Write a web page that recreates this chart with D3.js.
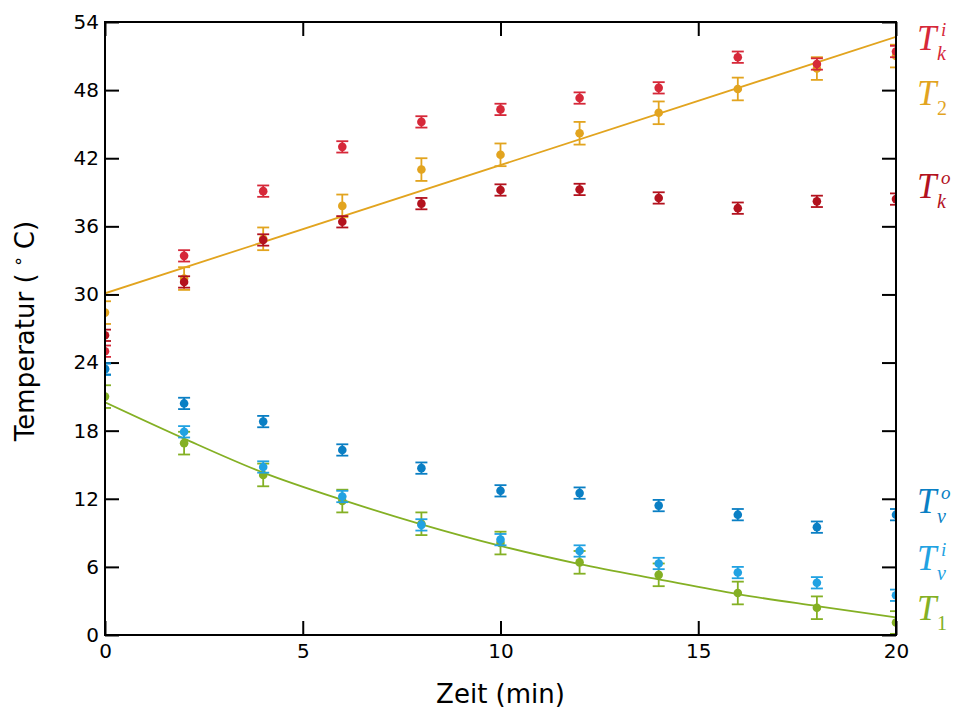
<!DOCTYPE html>
<html><head><meta charset="utf-8">
<script src="https://cdn.jsdelivr.net/npm/d3@7"></script>
<style>body{margin:0;background:#fff}svg{display:block}</style>
</head><body>
<svg id="chart" width="955" height="709"></svg>
<script>
// ---- data ----
const times = [0, 2, 4, 6, 8, 10, 12, 14, 16, 18, 20];
const Tk_i = [25.0, 33.4, 39.1, 43.0, 45.2, 46.3, 47.3, 48.2, 50.9, 50.3, 51.4];
const Tk_o = [26.4, 31.1, 34.8, 36.4, 38.0, 39.2, 39.25, 38.5, 37.6, 38.2, 38.4];
const T2   = [28.4, 31.4, 34.9, 37.8, 41.0, 42.3, 44.2, 46.0, 48.1, 49.9, 51.0];
const Tv_o = [23.45, 20.4, 18.8, 16.3, 14.7, 12.7, 12.5, 11.4, 10.6, 9.5, 10.6];
const Tv_i = [23.4, 17.9, 14.8, 12.2, 9.7, 8.4, 7.4, 6.3, 5.5, 4.6, 3.5];
const T1   = [21.0, 16.9, 14.1, 11.8, 9.8, 8.1, 6.4, 5.3, 3.7, 2.4, 1.1];
const err_T2 = 1.0, err_T1 = 1.0, err_Tk_i = 0.5, err_Tk_o = 0.5, err_Tv_o = 0.5, err_Tv_i = 0.5;
// fit curves
const fitT2_t = [0, 20];
const fitT2 = [30.1, 52.7];
const fitT1_t = [0, 2, 4, 6, 8, 10, 12, 14, 16, 18, 20];
const fitT1 = [20.5, 17.3, 14.3, 11.9, 9.75, 7.85, 6.25, 4.9, 3.6, 2.55, 1.55];
const yTicks = [0, 6, 12, 18, 24, 30, 36, 42, 48, 54];
const xTicks = [0, 5, 10, 15, 20];

const colors = {Tk_i:"#d62839", Tk_o:"#b3121e", T2:"#e2a41f", Tv_o:"#0a7fc4", Tv_i:"#21a2e2", T1:"#84b024"};

// ---- layout ----
const svg = d3.select("#chart");
const L = 105, R = 896, T = 22, B = 635;
const x = d3.scaleLinear().domain([0, 20]).range([L, R]);
const y = d3.scaleLinear().domain([0, 54]).range([B, T]);

svg.append("defs").append("clipPath").attr("id","clip")
  .append("rect").attr("x",L).attr("y",T).attr("width",R-L).attr("height",B-T);

const tickFont = "DejaVu Sans";
function styleAxis(g, showText){
  g.select(".domain").remove();
  g.selectAll(".tick line").attr("stroke","#000").attr("stroke-width",2);
  g.selectAll(".tick text").attr("font-family",tickFont).attr("font-size",20).attr("fill","#000");
  if(!showText) g.selectAll(".tick text").remove();
}
svg.append("g").attr("transform",`translate(${L},0)`)
  .call(d3.axisLeft(y).tickValues(yTicks).tickSize(-14).tickPadding(6).tickFormat(d3.format("d")))
  .call(g=>styleAxis(g,true));
svg.append("g").attr("transform",`translate(${R},0)`)
  .call(d3.axisRight(y).tickValues(yTicks).tickSize(-14))
  .call(g=>styleAxis(g,false));
svg.append("g").attr("transform",`translate(0,${B})`)
  .call(d3.axisBottom(x).tickValues(xTicks).tickSize(-14).tickPadding(9).tickFormat(d3.format("d")))
  .call(g=>styleAxis(g,true));
svg.append("g").attr("transform",`translate(0,${T})`)
  .call(d3.axisTop(x).tickValues(xTicks).tickSize(-14))
  .call(g=>styleAxis(g,false));

// ---- plot content ----
const plot = svg.append("g").attr("clip-path","url(#clip)");

const lineGen = d3.line().x(d=>x(d[0])).y(d=>y(d[1])).curve(d3.curveMonotoneX);
plot.append("path").datum(d3.zip(fitT2_t, fitT2)).attr("d", lineGen)
  .attr("fill","none").attr("stroke",colors.T2).attr("stroke-width",1.8);
plot.append("path").datum(d3.zip(fitT1_t, fitT1)).attr("d", lineGen)
  .attr("fill","none").attr("stroke",colors.T1).attr("stroke-width",1.8);

const series = [
  {vals:T2, err:err_T2, c:colors.T2},
  {vals:T1, err:err_T1, c:colors.T1},
  {vals:Tv_i, err:err_Tv_i, c:colors.Tv_i},
  {vals:Tv_o, err:err_Tv_o, c:colors.Tv_o},
  {vals:Tk_o, err:err_Tk_o, c:colors.Tk_o},
  {vals:Tk_i, err:err_Tk_i, c:colors.Tk_i},
];
const cap = 6;
series.forEach(s=>{
  const g = plot.append("g");
  const pts = times.map((t,i)=>({t, v:s.vals[i]}));
  const eb = g.selectAll("g.eb").data(pts).join("g");
  eb.append("line").attr("x1",d=>x(d.t)).attr("x2",d=>x(d.t))
    .attr("y1",d=>y(d.v-s.err)).attr("y2",d=>y(d.v+s.err))
    .attr("stroke",s.c).attr("stroke-width",1.8);
  eb.append("line").attr("x1",d=>x(d.t)-cap).attr("x2",d=>x(d.t)+cap)
    .attr("y1",d=>y(d.v+s.err)).attr("y2",d=>y(d.v+s.err))
    .attr("stroke",s.c).attr("stroke-width",1.8);
  eb.append("line").attr("x1",d=>x(d.t)-cap).attr("x2",d=>x(d.t)+cap)
    .attr("y1",d=>y(d.v-s.err)).attr("y2",d=>y(d.v-s.err))
    .attr("stroke",s.c).attr("stroke-width",1.8);
  g.selectAll("circle").data(pts).join("circle")
    .attr("cx",d=>x(d.t)).attr("cy",d=>y(d.v)).attr("r",4.3).attr("fill",s.c);
});

// frame
svg.append("rect").attr("x",L).attr("y",T).attr("width",R-L).attr("height",B-T)
  .attr("fill","none").attr("stroke","#000").attr("stroke-width",2);

// axis labels
svg.append("text").attr("x",(L+R)/2).attr("y",703).attr("text-anchor","middle")
  .attr("font-family",tickFont).attr("font-size",26).text("Zeit (min)");
const yl = svg.append("text").attr("transform","translate(34,331) rotate(-90)")
  .attr("text-anchor","middle").attr("font-family",tickFont).attr("font-size",26);
yl.append("tspan").text("Temperatur (\u2005");
yl.append("tspan").attr("font-size",18).attr("dy",-10).text("\u2218");
yl.append("tspan").attr("dy",10).text("\u2005C)");

// series labels (math style)
const labels = [
  {c:colors.Tk_i, sub:"k", sup:"i", base:50},
  {c:colors.T2,   sub:"2", sup:null, base:105},
  {c:colors.Tk_o, sub:"k", sup:"o", base:198},
  {c:colors.Tv_o, sub:"v", sup:"o", base:513},
  {c:colors.Tv_i, sub:"v", sup:"i", base:570},
  {c:colors.T1,   sub:"1", sup:null, base:620},
];
labels.forEach(l=>{
  const g = svg.append("g").attr("fill",l.c).attr("font-family","Liberation Serif");
  g.append("text").attr("x",917).attr("y",l.base).attr("font-size",35).attr("font-style","italic").text("T");
  const subItalic = isNaN(+l.sub);
  g.append("text").attr("x",937).attr("y",l.base+10).attr("font-size",20)
    .attr("font-style", subItalic ? "italic" : "normal").text(l.sub);
  if(l.sup) g.append("text").attr("x",941).attr("y",l.base-14).attr("font-size",19)
    .attr("font-style","italic").text(l.sup);
});
</script>
</body></html>
